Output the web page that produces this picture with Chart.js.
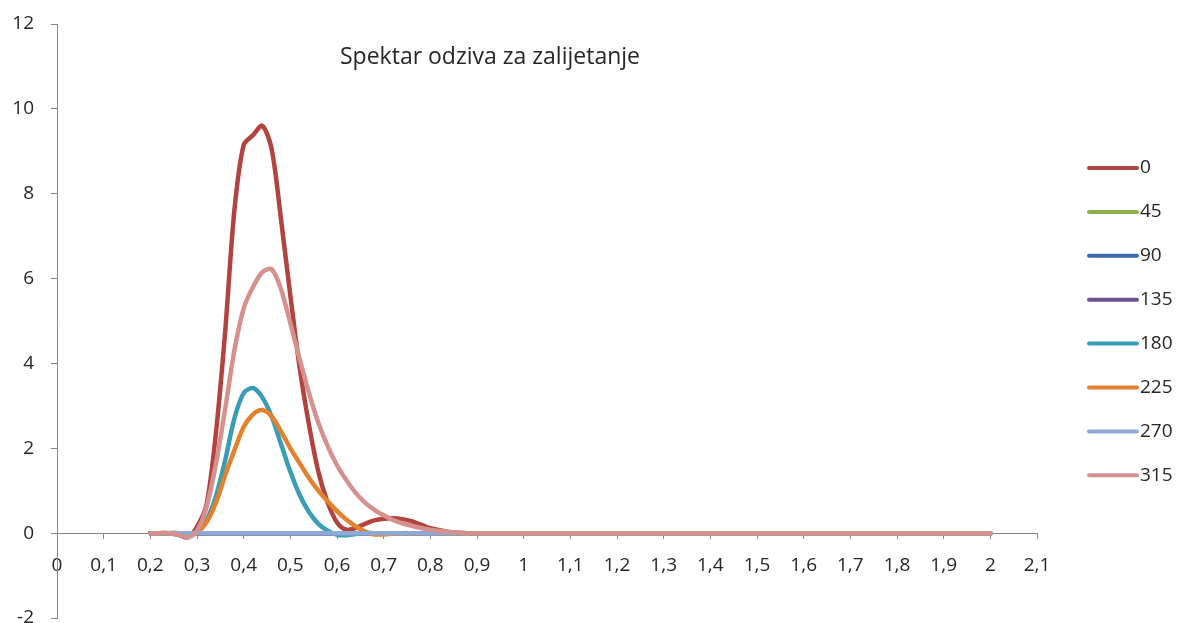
<!DOCTYPE html>
<html>
<head>
<meta charset="utf-8">
<script src="https://cdn.jsdelivr.net/npm/chart.js@4.4.1/dist/chart.umd.min.js"></script>
<style>
  html, body { margin: 0; padding: 0; background: #fff; }
  #wrap { position: relative; width: 1180px; height: 623px; }
</style>
</head>
<body>
<div id="wrap"><canvas id="c"></canvas></div>
<script>
const chartTitle = 'Spektar odziva za zalijetanje';
const seriesNames = ['0', '45', '90', '135', '180', '225', '270', '315'];
const seriesColors = ['#B3433F', '#8FAE4E', '#3D68AC', '#6B5192', '#3A9DB6', '#E3812F', '#8FA9D6', '#D5918E'];

// x values (period) shared by all series
const xValues = [
  0.20, 0.22, 0.24, 0.26, 0.28, 0.30, 0.32, 0.34, 0.36, 0.38,
  0.40, 0.42, 0.44, 0.46, 0.48, 0.50, 0.52, 0.54, 0.56, 0.58,
  0.60, 0.62, 0.64, 0.66, 0.68, 0.70, 0.72, 0.74, 0.76, 0.78,
  0.80, 0.82, 0.84, 0.86, 0.88, 0.90,
  1.0, 1.1, 1.2, 1.3, 1.4, 1.5, 1.6, 1.7, 1.8, 1.9, 2.0
];

const s0 = [
  0, 0, 0, -0.04, -0.1, 0.15, 0.65, 2.3, 4.7, 7.6,
  9.15, 9.38, 9.6, 9.05, 7.4, 5.6, 3.9, 2.55, 1.45, 0.72,
  0.25, 0.08, 0.12, 0.22, 0.3, 0.34, 0.35, 0.33, 0.28, 0.2,
  0.12, 0.07, 0.03, 0.01, 0, 0,
  0, 0, 0, 0, 0, 0, 0, 0, 0, 0, 0
];
const zeroSeries = [
  0, 0, 0, 0, 0, 0, 0, 0, 0, 0,
  0, 0, 0, 0, 0, 0, 0, 0, 0, 0,
  0, 0, 0, 0, 0, 0, 0, 0, 0, 0,
  0, 0, 0, 0, 0, 0,
  0, 0, 0, 0, 0, 0, 0, 0, 0, 0, 0
];
const s45 = zeroSeries;
const s90 = zeroSeries;
const s135 = zeroSeries;
const s180 = [
  0, 0, 0, 0, -0.03, 0.05, 0.3, 0.85, 1.7, 2.7,
  3.3, 3.42, 3.2, 2.75, 2.1, 1.45, 0.9, 0.5, 0.22, 0.06,
  -0.04, -0.05, -0.02, 0, 0, 0, 0, 0, 0, 0,
  0, 0, 0, 0, 0, 0,
  0, 0, 0, 0, 0, 0, 0, 0, 0, 0, 0
];
const s225 = [
  0, 0, 0, 0, -0.03, 0.02, 0.25, 0.7, 1.35, 1.95,
  2.5, 2.8, 2.9, 2.75, 2.4, 2.0, 1.65, 1.3, 1.0, 0.75,
  0.52, 0.32, 0.16, 0.04, -0.03, -0.03, -0.01, 0, 0, 0,
  0, 0, 0, 0, 0, 0,
  0, 0, 0, 0, 0, 0, 0, 0, 0, 0, 0
];
const s270 = zeroSeries;
const s315 = [
  0, 0, 0, -0.04, -0.1, 0.05, 0.6, 1.6, 2.9, 4.3,
  5.3, 5.8, 6.15, 6.22, 5.75, 4.95, 4.1, 3.3, 2.6, 2.05,
  1.6, 1.25, 0.95, 0.72, 0.55, 0.42, 0.31, 0.23, 0.17, 0.12,
  0.08, 0.05, 0.03, 0.01, 0, 0,
  0, 0, 0, 0, 0, 0, 0, 0, 0, 0, 0
];
const seriesValues = [s0, s45, s90, s135, s180, s225, s270, s315];

const FONT = '"Open Sans", "Noto Sans", sans-serif';
const TEXT = '#262626';
const AXIS = '#878787';

const datasets = seriesNames.map((name, i) => ({
  label: name,
  data: xValues.map((x, j) => ({ x, y: seriesValues[i][j] })),
  borderColor: seriesColors[i],
  backgroundColor: seriesColors[i],
  borderWidth: 4.5,
  pointRadius: 0,
  fill: false,
  tension: 0.3,
  borderCapStyle: 'round',
  borderJoinStyle: 'round',
  order: seriesNames.length - i // later series on top, like Excel
}));

// title sits inside the plot area, left of centre
const titlePlugin = {
  id: 'insideTitle',
  afterDraw(chart) {
    const ctx = chart.ctx;
    ctx.save();
    ctx.font = '23px ' + FONT;
    ctx.fillStyle = TEXT;
    ctx.textAlign = 'center';
    ctx.textBaseline = 'middle';
    ctx.fillText(chartTitle, 490, 57);
    ctx.restore();
  }
};

// legend column on the right, short line + label
const legendPlugin = {
  id: 'sideLegend',
  afterDraw(chart) {
    const ctx = chart.ctx;
    ctx.save();
    ctx.font = '19px ' + FONT;
    ctx.textBaseline = 'middle';
    ctx.textAlign = 'left';
    chart.data.datasets.forEach((ds, i) => {
      const y = 168 + i * 43.9;
      ctx.strokeStyle = ds.borderColor;
      ctx.lineWidth = 4;
      ctx.lineCap = 'round';
      ctx.beginPath();
      ctx.moveTo(1089, y);
      ctx.lineTo(1137, y);
      ctx.stroke();
      ctx.fillStyle = TEXT;
      ctx.fillText(ds.label, 1140, y);
    });
    ctx.restore();
  }
};

new Chart(document.getElementById('c'), {
  type: 'line',
  data: { datasets },
  plugins: [titlePlugin, legendPlugin],
  options: {
    responsive: true,
    maintainAspectRatio: false,
    animation: false,
    layout: { padding: { left: 0, right: 143, top: 24, bottom: 5 } },
    plugins: {
      legend: { display: false },
      title: { display: false },
      tooltip: { enabled: false }
    },
    scales: {
      x: {
        type: 'linear',
        position: { y: 0 },
        min: 0,
        max: 2.1,
        ticks: {
          stepSize: 0.1,
          autoSkip: false,
          maxRotation: 0,
          padding: 16,
          color: TEXT,
          font: { family: FONT, size: 19 },
          callback: v => String(Math.round(v * 10) / 10).replace('.', ',')
        },
        grid: { display: true, drawOnChartArea: false, drawTicks: true, tickLength: 5, color: AXIS },
        border: { display: true, color: AXIS, width: 1 }
      },
      y: {
        position: 'left',
        min: -2,
        max: 12,
        ticks: {
          stepSize: 2,
          padding: 17,
          color: TEXT,
          font: { family: FONT, size: 19 }
        },
        grid: { display: true, drawOnChartArea: false, drawTicks: true, tickLength: 6, color: AXIS },
        border: { display: true, color: AXIS, width: 1 },
        afterFit: scale => {
          scale.width = 57;
          scale.paddingTop = 0;
          scale.paddingBottom = 0;
        }
      }
    }
  }
});
</script>
</body>
</html>
